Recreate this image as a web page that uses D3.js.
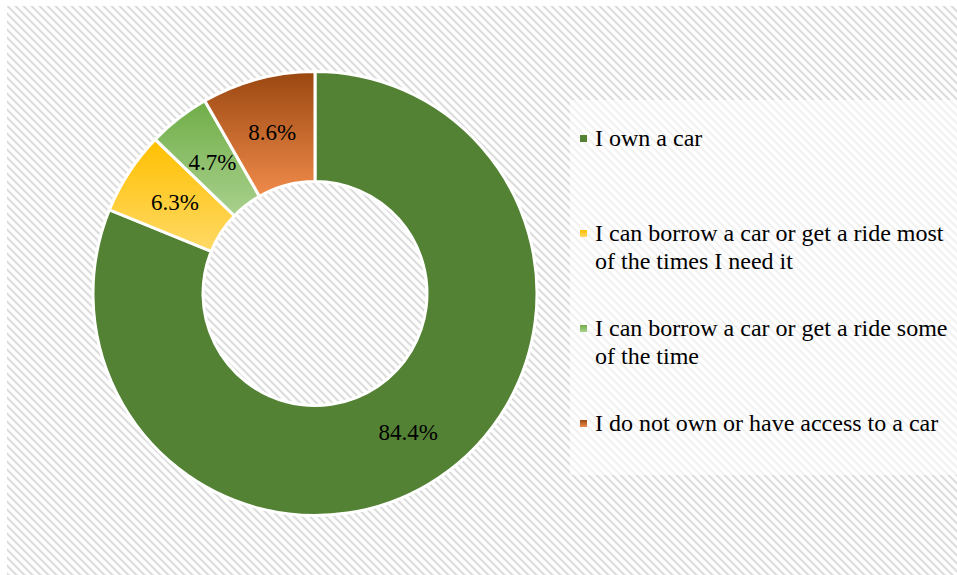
<!DOCTYPE html>
<html>
<head>
<meta charset="utf-8">
<script src="https://cdn.jsdelivr.net/npm/d3@7"></script>
<style>
  html, body { margin: 0; padding: 0; background: #fff; }
  svg { display: block; }
  svg text { font-family: "Liberation Serif", "Times New Roman", Tinos, "Nimbus Roman", "DejaVu Serif", serif; }
</style>
</head>
<body>
<svg id="chart" width="957" height="575"></svg>
<script>
// Car access categories and their shares (percent labels as printed)
const categories = [
  "I own a car",
  "I can borrow a car or get a ride most of the times I need it",
  "I can borrow a car or get a ride some of the time",
  "I do not own or have access to a car"
];
const values = [84.4, 6.3, 4.7, 8.6];
// gradient stops per slice: [top colour, bottom colour]
const topColors = ["#548235", "#ffc000", "#70ad47", "#9a4710"];
const bottomColors = ["#548235", "#ffd966", "#a9d18e", "#f08b4b"];

const W = 957, H = 575;
const svg = d3.select("#chart");
const defs = svg.append("defs");

// diagonal hatch used for the chart area
const pat = defs.append("pattern")
  .attr("id", "hatch")
  .attr("patternUnits", "userSpaceOnUse")
  .attr("width", 8).attr("height", 8);
pat.append("rect").attr("width", 8).attr("height", 8).attr("fill", "#ffffff");
pat.append("path")
  .attr("d", "M0,0 L3,0 L8,5 L8,8 Z M0,5 L3,8 L0,8 Z")
  .attr("fill", "#dcdcdc");

// vertical gradients for slices and legend keys
values.forEach((v, i) => {
  const g = defs.append("linearGradient")
    .attr("id", "grad" + i)
    .attr("x1", 0).attr("y1", 0).attr("x2", 0).attr("y2", 1);
  g.append("stop").attr("offset", "0%").attr("stop-color", topColors[i]);
  g.append("stop").attr("offset", "100%").attr("stop-color", bottomColors[i]);
});

// chart area background
svg.append("rect")
  .attr("x", 7).attr("y", 6)
  .attr("width", W - 7).attr("height", H - 6)
  .attr("fill", "url(#hatch)");

// donut
const cx = 315, cy = 293.5, outerR = 222, innerR = 112;
const pie = d3.pie().sort(null).value(d => d.value);
const arc = d3.arc().innerRadius(innerR).outerRadius(outerR);
const data = categories.map((c, i) => ({ name: c, value: values[i], i }));
const arcs = pie(data);

const g = svg.append("g").attr("transform", `translate(${cx},${cy})`);
g.selectAll("path.slice")
  .data(arcs)
  .join("path")
  .attr("class", "slice")
  .attr("d", arc)
  .attr("fill", d => `url(#grad${d.data.i})`)
  .attr("stroke", "#ffffff")
  .attr("stroke-width", 3)
  .attr("stroke-linejoin", "miter");

g.selectAll("text.pct")
  .data(arcs)
  .join("text")
  .attr("class", "pct")
  .attr("transform", d => `translate(${arc.centroid(d)})`)
  .attr("text-anchor", "middle")
  .attr("dy", "0.35em")
  .style("font-size", "23px")
  .attr("fill", "#000000")
  .text(d => d.data.value.toFixed(1) + "%");

// legend
const legend = svg.append("g");
legend.append("rect")
  .attr("x", 570).attr("y", 100)
  .attr("width", W - 570).attr("height", 375)
  .attr("fill", "#ffffff")
  .attr("fill-opacity", 0.6);

const legendX = 580, textX = 595, firstBaseline = 146, itemStep = 95, lineStep = 28, maxWidth = 360;

data.forEach((d, i) => {
  const base = firstBaseline + i * itemStep;
  legend.append("rect")
    .attr("x", legendX).attr("y", base - 11)
    .attr("width", 7).attr("height", 7)
    .attr("fill", `url(#grad${i})`);
  const t = legend.append("text")
    .attr("x", textX).attr("y", base)
    .style("font-size", "24px")
    .attr("fill", "#000000");
  // word-wrap into lines no wider than maxWidth
  const words = d.name.split(" ");
  let line = [];
  let lineNo = 0;
  let tspan = t.append("tspan").attr("x", textX).attr("y", base);
  words.forEach(w => {
    line.push(w);
    tspan.text(line.join(" "));
    if (tspan.node().getComputedTextLength() > maxWidth && line.length > 1) {
      line.pop();
      tspan.text(line.join(" "));
      line = [w];
      lineNo++;
      tspan = t.append("tspan").attr("x", textX).attr("y", base + lineNo * lineStep).text(w);
    }
  });
});
</script>
</body>
</html>
